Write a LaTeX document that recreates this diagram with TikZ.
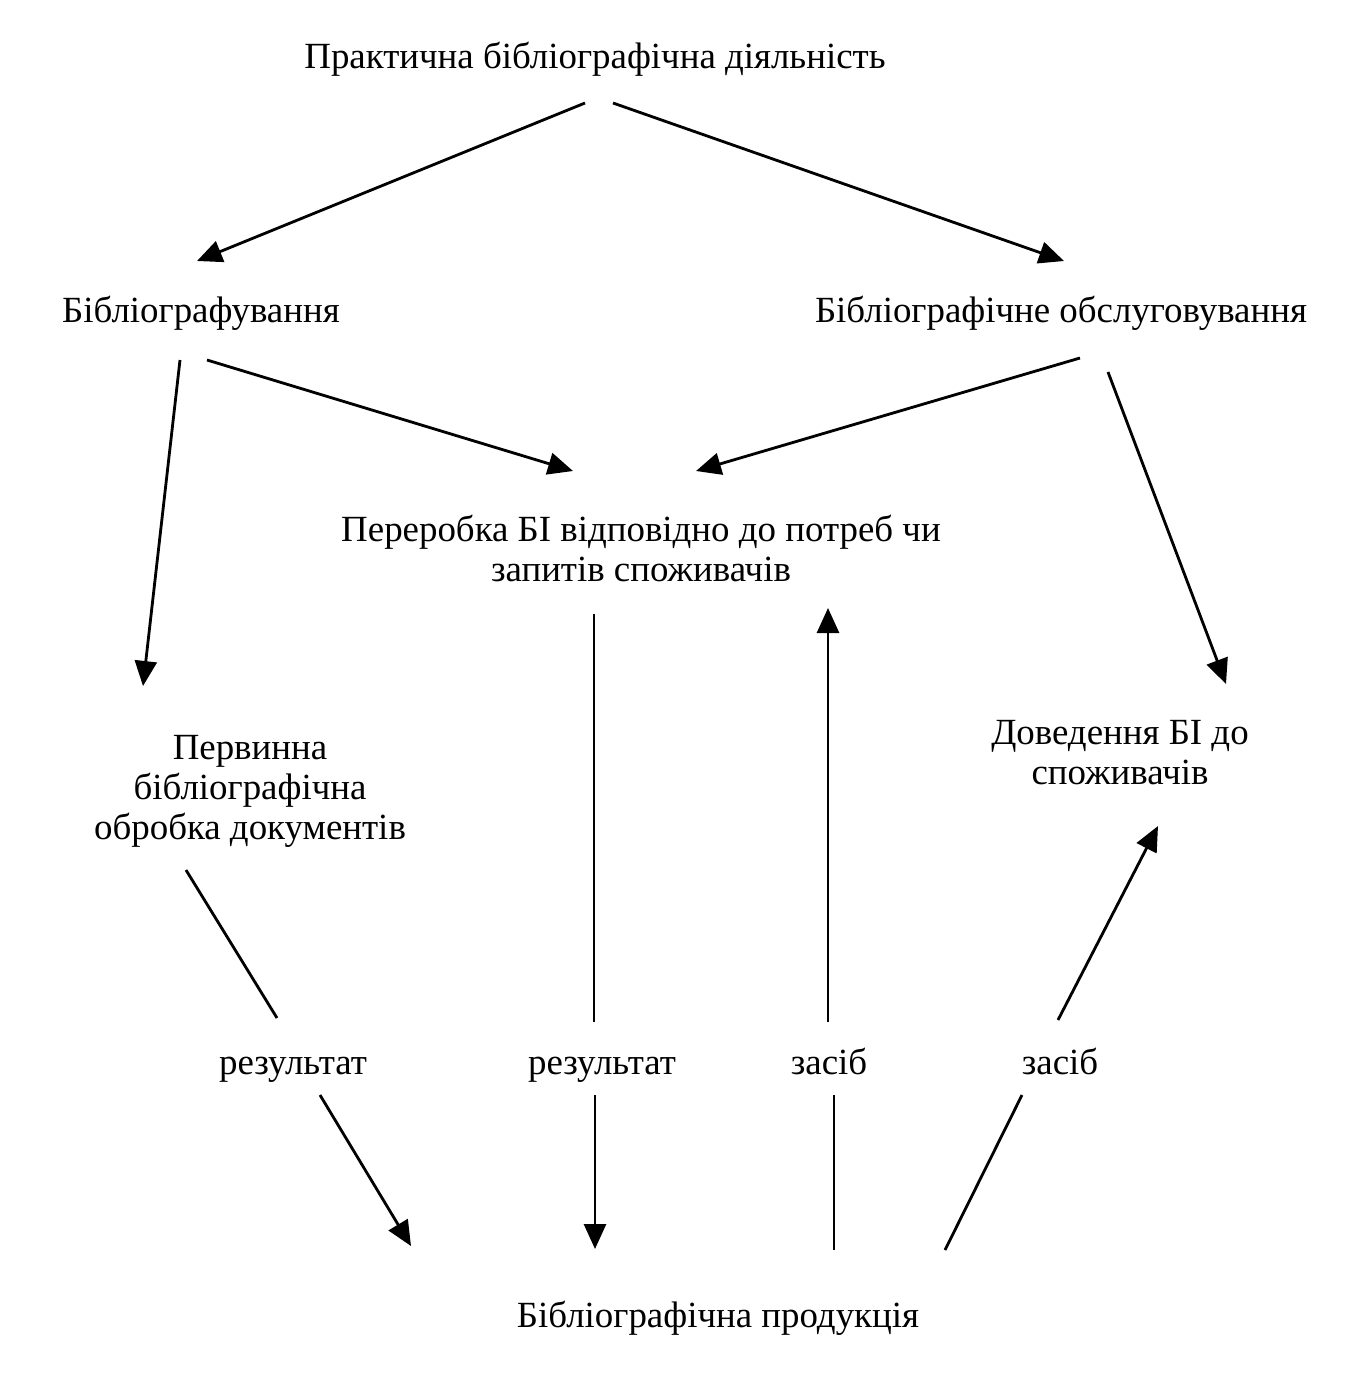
\documentclass[tikz,border=0pt]{standalone}
\usepackage{fontspec}
\setmainfont{Liberation Serif}
\usetikzlibrary{arrows.meta}
\begin{document}
\begin{tikzpicture}[x=0.02cm,y=-0.02cm,
  lbl/.style={font=\fontsize{21}{22.76}\selectfont, align=center, inner sep=0pt},
  one/.style={lbl, anchor=base},
  con/.style={line width=1.6pt},
  arr/.style={con, -{Triangle[length=0.5cm,width=0.44cm]}}]
\useasboundingbox (0,0) rectangle (1362,1386);
% text nodes
\node[one] (top) at (595,68) {Практична бібліографічна діяльність};
\node[one] (bib) at (201,322) {Бібліографування};
\node[one] (obs) at (1061,322) {Бібліографічне обслуговування};
\node[lbl] (per) at (641,548) {Переробка БІ відповідно до потреб чи\\запитів споживачів};
\node[lbl] (perv) at (250,791) {Первинна\\бібліографічна\\обробка документів};
\node[lbl] (dov) at (1120,753) {Доведення БІ до\\споживачів};
\node[one] (r1) at (293,1074) {результат};
\node[one] (r2) at (602,1074) {результат};
\node[one] (z1) at (829,1074) {засіб};
\node[one] (z2) at (1060,1074) {засіб};
\node[one] (prod) at (718,1327) {Бібліографічна продукція};
% connector end points
\coordinate (a1s) at (585,103); \coordinate (a1e) at (197,261);
\coordinate (a2s) at (613,103); \coordinate (a2e) at (1064,261);
\coordinate (a3s) at (180,360); \coordinate (a3e) at (143,686);
\coordinate (a4s) at (207,360); \coordinate (a4e) at (573,471);
\coordinate (a5s) at (1080,358); \coordinate (a5e) at (696,471);
\coordinate (a6s) at (1108,372); \coordinate (a6e) at (1226,684);
\coordinate (b1s) at (186,870); \coordinate (b1e) at (277,1018);
\coordinate (b2s) at (320,1095); \coordinate (b2e) at (411,1246);
\coordinate (c1s) at (594,614); \coordinate (c1e) at (594,1022);
\coordinate (c2s) at (595,1095); \coordinate (c2e) at (595,1249);
\coordinate (d1s) at (834,1250); \coordinate (d1e) at (834,1095);
\coordinate (d2s) at (828,1022); \coordinate (d2e) at (828,608);
\coordinate (e1s) at (945,1250); \coordinate (e1e) at (1022,1095);
\coordinate (e2s) at (1058,1020); \coordinate (e2e) at (1158,826);
% connectors
\draw[arr] (a1s) -- (a1e);
\draw[arr] (a2s) -- (a2e);
\draw[arr] (a3s) -- (a3e);
\draw[arr] (a4s) -- (a4e);
\draw[arr] (a5s) -- (a5e);
\draw[arr] (a6s) -- (a6e);
\draw[con] (b1s) -- (b1e);
\draw[arr] (b2s) -- (b2e);
\draw[con] (c1s) -- (c1e);
\draw[arr] (c2s) -- (c2e);
\draw[con] (d1s) -- (d1e);
\draw[arr] (d2s) -- (d2e);
\draw[con] (e1s) -- (e1e);
\draw[arr] (e2s) -- (e2e);
\end{tikzpicture}
\end{document}
